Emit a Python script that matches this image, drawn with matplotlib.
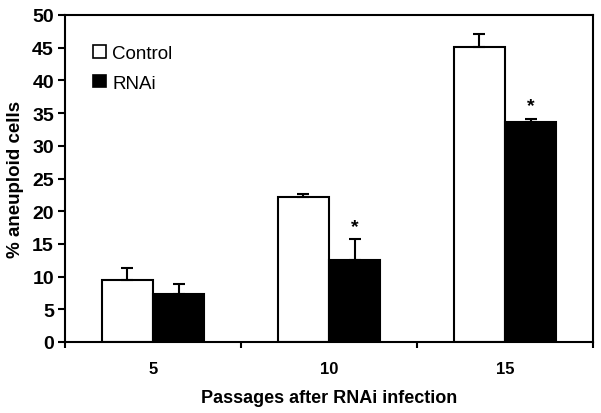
import matplotlib
matplotlib.use("Agg")
import matplotlib.pyplot as plt
from matplotlib.patches import Patch
import numpy as np

plt.rcParams['font.family'] = ['Liberation Sans', 'DejaVu Sans']

# data
passages = ["5", "10", "15"]
control = [9.5, 22.1, 45.1]
control_err = [1.8, 0.6, 2.0]
rnai = [7.3, 12.5, 33.6]
rnai_err = [1.6, 3.2, 0.5]
significant = [False, True, True]

x = np.arange(len(passages))
w = 0.29

fig = plt.figure(figsize=(6.01, 4.14), dpi=100)
ax = fig.add_axes([65 / 601, 1 - 343 / 414, 528 / 601, 327 / 414])

ax.bar(x - w / 2, control, w, color='white', edgecolor='black', linewidth=1.5,
       yerr=[np.zeros(len(control)), control_err],
       error_kw=dict(ecolor='black', elinewidth=1.5, capsize=4, capthick=1.5), zorder=2)
ax.bar(x + w / 2, rnai, w, color='black', edgecolor='black', linewidth=1.5,
       yerr=[np.zeros(len(rnai)), rnai_err],
       error_kw=dict(ecolor='black', elinewidth=1.5, capsize=4, capthick=1.5), zorder=2)

# significance stars
for i, s in enumerate(significant):
    if s:
        ax.text(x[i] + w / 2, rnai[i] + rnai_err[i] + 0.7, "*", ha='center', va='bottom',
                fontsize=14, fontweight='bold')

ax.set_xlim(-0.5, len(passages) - 0.5)
ax.set_ylim(0, 50)
ax.set_yticks(np.arange(0, 51, 5))
ax.set_xticks(x)
ax.set_xticklabels(passages, fontweight='bold', fontsize=12)
ax.set_xticks(np.arange(-0.5, len(passages)), minor=True)
ax.tick_params(axis='x', which='major', length=0, pad=14)
ax.tick_params(axis='x', which='minor', length=4, width=1.5, direction='out')
ax.tick_params(axis='y', length=5, width=1.5, labelsize=14, pad=3)
for lab in ax.get_yticklabels():
    lab.set_fontweight('bold')

for sp in ax.spines.values():
    sp.set_linewidth(1.5)

ax.set_xlabel("Passages after RNAi infection", fontweight='bold', fontsize=13, labelpad=9)
ax.set_ylabel("% aneuploid cells", fontweight='bold', fontsize=13.5, labelpad=6)

handles = [Patch(facecolor='white', edgecolor='black', linewidth=1.2, label='Control'),
           Patch(facecolor='black', edgecolor='black', linewidth=1.2, label='RNAi')]
ax.legend(handles=handles, loc='upper left', bbox_to_anchor=(0.022, 0.96), frameon=False,
          fontsize=13.5, handlelength=0.65, handleheight=0.65, handletextpad=0.35,
          labelspacing=0.68)

fig.savefig("out.png", dpi=100)
